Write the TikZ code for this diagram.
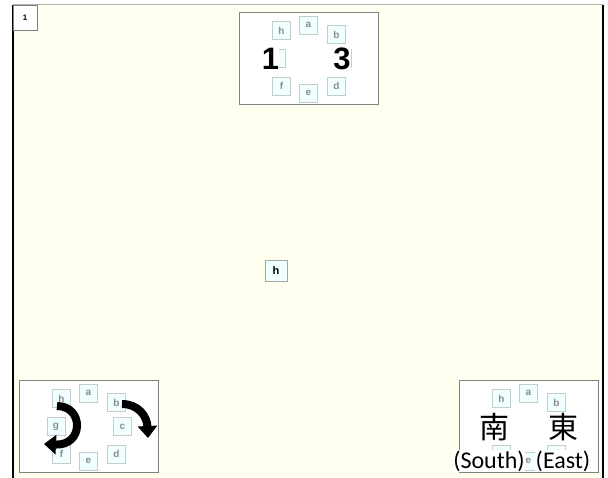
\documentclass[tikz,border=0pt]{standalone}
\usepackage{fontspec}
\setmainfont{Liberation Sans}
\newfontfamily\cjkfont{Noto Sans CJK SC}
\newfontfamily\carl{Carlito}
\usetikzlibrary{arrows.meta}
\definecolor{cream}{HTML}{FFFFF0}
\definecolor{boxfill}{HTML}{F0FFFF}
\definecolor{boxline}{HTML}{C4CCCC}
\definecolor{lettergray}{HTML}{8C8C8C}
\definecolor{panelline}{HTML}{808080}
\begin{document}
\begin{tikzpicture}[x=1pt,y=-1pt,
  sbox/.style={draw=boxline, fill=boxfill, minimum width=18pt, minimum height=18pt, inner sep=0pt,
    font=\fontsize{10}{10}\selectfont\bfseries, text=lettergray, line width=0.8pt},
  panel/.style={draw=panelline, fill=white, line width=0.8pt, minimum width=139pt, minimum height=92pt,
    anchor=north west, inner sep=0pt},
  bigarrow/.style={line width=8pt, -{Triangle[length=12pt,width=19pt]}},
  bigdigit/.style={font=\fontsize{31}{31}\selectfont\bfseries, fill=white, inner sep=0pt},
  cjk/.style={font=\cjkfont\fontsize{30}{30}\selectfont, fill=white, inner sep=0pt},
  paren/.style={font=\carl\fontsize{24}{24}\selectfont, fill=white, inner sep=0.5pt}
  ]
\useasboundingbox (0,0) rectangle (608,478);
\fill[white] (0,0) rectangle (608,478);
\fill[cream] (13,5) rectangle (603,478);
\draw[gray!60, line width=1pt] (13,5) -- (603,5);
\draw[black, line width=1.5pt] (13,5) -- (13,478);
\draw[black, line width=1.5pt] (603,5) -- (603,478);

% corner number box
\node[draw=panelline, fill=white, minimum width=24pt, minimum height=25pt, anchor=north west,
  inner sep=0pt, font=\fontsize{8}{8}\selectfont\bfseries] (num) at (13,5) {1};

% panels
\node[panel] (pT) at (239,12) {};
\node[panel] (pL) at (19,380) {};
\node[panel] (pR) at (459,380) {};

% small letter boxes
\foreach \p/\ox/\oy in {T/239/12, L/19/380, R/459/380}
  \foreach \n/\x/\y in {h/42.5/18.5, a/69.5/13, b/97.5/22.5, g/37/46.5, c/103.5/46.5, f/42.5/74, e/69.5/81, d/97.5/74}
    \node[sbox] (\p\n) at (\ox+\x,\oy+\y) {\n};

% center box
\node[draw=gray!70, fill=boxfill, minimum width=22pt, minimum height=21pt, inner sep=0pt,
  font=\fontsize{11}{11}\selectfont\bfseries] (ch) at (276,270.5) {h};

% top panel digits
\node[bigdigit] (one) at (270.5,59) {1};
\node[bigdigit] (three) at (342,59) {3};

% bottom-left arrows
\draw[bigarrow] (57,406) .. controls (84,406) and (84,446) .. (44,444);
\draw[bigarrow] (122,404) .. controls (138,404) and (147,416) .. (148,438);

% bottom-right labels
\node[cjk] (nan) at (494,427) {南};
\node[cjk] (dong) at (563,427) {東};
\node[paren] (south) at (489,461) {(South)};
\node[paren] (east) at (563,461) {(East)};
\end{tikzpicture}
\end{document}
